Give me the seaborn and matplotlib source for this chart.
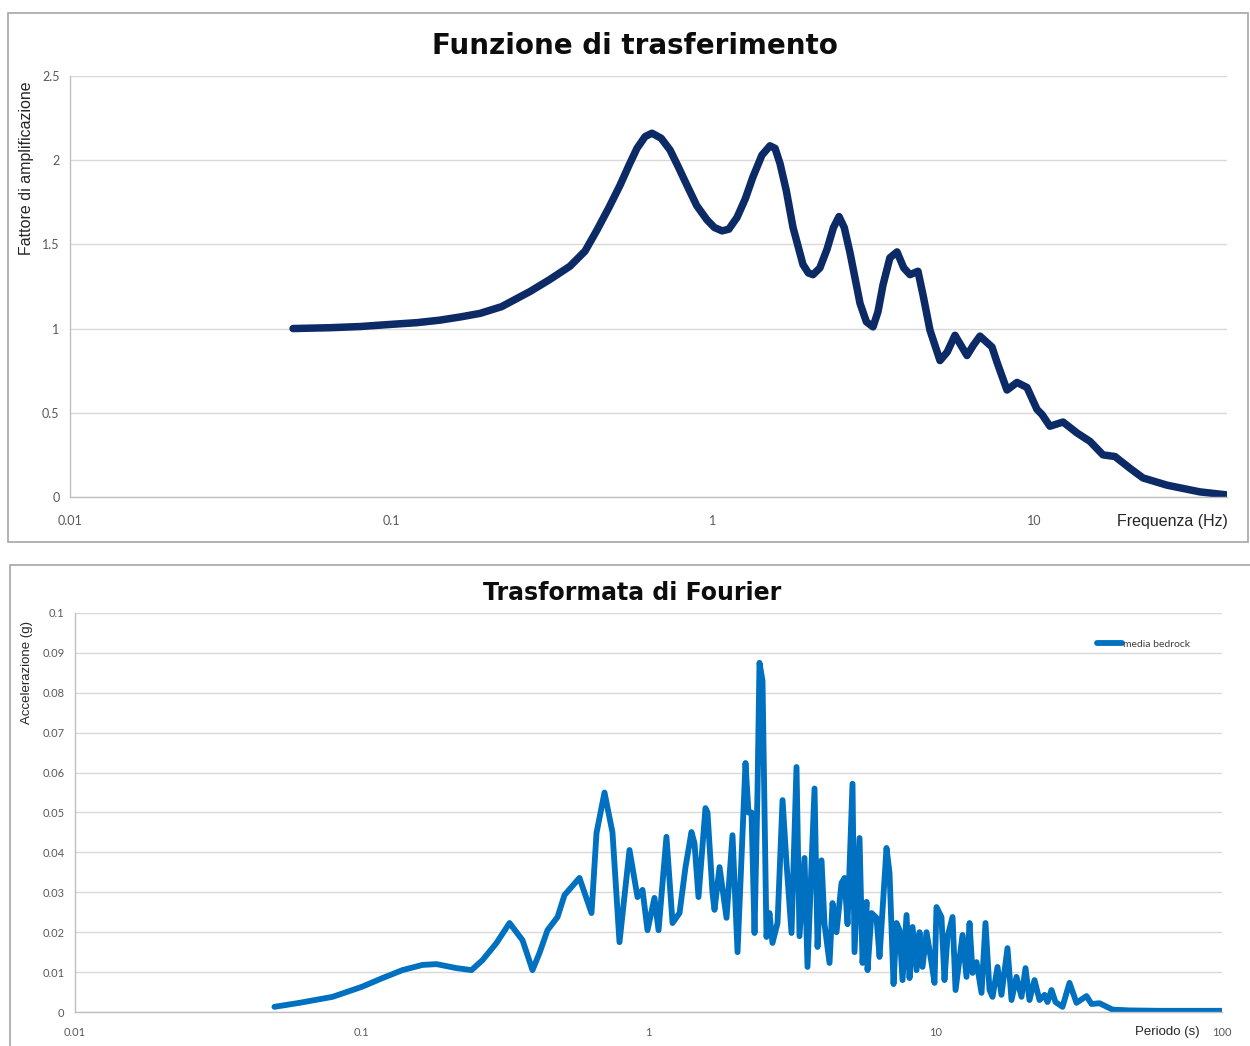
import matplotlib
matplotlib.use("Agg")
import matplotlib.pyplot as plt
from matplotlib.patches import Rectangle
import seaborn as sns
import pandas as pd

# transfer function (frequency in Hz, amplification factor)
freq_hz = [0.0494, 0.0644, 0.08, 0.1, 0.12, 0.1416, 0.165, 0.1885, 0.22, 0.2697,
           0.31, 0.359, 0.4, 0.4357, 0.475, 0.5136, 0.548, 0.5801, 0.615, 0.6459,
           0.69, 0.7353, 0.78, 0.8301, 0.89, 0.958, 1.01, 1.067, 1.12, 1.188,
           1.26, 1.331, 1.42, 1.504, 1.56, 1.616, 1.69, 1.774, 1.905, 1.98,
           2.047, 2.15, 2.262, 2.37, 2.466, 2.56, 2.668, 2.866, 3.0, 3.146,
           3.26, 3.38, 3.55, 3.736, 3.92, 4.1, 4.341, 4.5, 4.731, 5.083,
           5.35, 5.658, 6.167, 6.45, 6.768, 7.377, 7.645, 8.212, 8.823, 9.478,
           10.18, 10.55, 11.17, 12.27, 13.56, 14.88, 16.33, 17.8, 19.82, 21.75,
           25.83, 32.72, 39.7]
amplification = [1.0, 1.005, 1.012, 1.025, 1.035, 1.05, 1.07, 1.09, 1.13, 1.22,
                 1.29, 1.37, 1.46, 1.585, 1.72, 1.85, 1.97, 2.07, 2.14, 2.16,
                 2.13, 2.06, 1.96, 1.85, 1.73, 1.645, 1.6, 1.58, 1.59, 1.66,
                 1.77, 1.9, 2.03, 2.085, 2.07, 1.98, 1.82, 1.6, 1.38, 1.33,
                 1.32, 1.36, 1.47, 1.6, 1.665, 1.6, 1.45, 1.15, 1.04, 1.01,
                 1.1, 1.26, 1.42, 1.455, 1.36, 1.32, 1.34, 1.2, 0.99, 0.81,
                 0.86, 0.96, 0.84, 0.9, 0.955, 0.89, 0.8, 0.635, 0.68, 0.65,
                 0.52, 0.49, 0.42, 0.445, 0.38, 0.33, 0.25, 0.24, 0.17, 0.113,
                 0.07, 0.03, 0.012]

# Fourier spectrum (period in s, acceleration in g)
period_s = [0.0496, 0.0607, 0.0791, 0.1, 0.1181, 0.1387, 0.1628, 0.1823, 0.214, 0.2414,
            0.2637, 0.2951, 0.3276, 0.3636, 0.394, 0.4168, 0.4444, 0.4817, 0.5094, 0.5744,
            0.6328, 0.6588, 0.7024, 0.7488, 0.7922, 0.8585, 0.9155, 0.953, 0.992, 1.049,
            1.084, 1.155, 1.213, 1.283, 1.346, 1.412, 1.447, 1.494, 1.58, 1.606,
            1.672, 1.699, 1.769, 1.871, 1.963, 2.044, 2.179, 2.232, 2.287, 2.343,
            2.4, 2.438, 2.498, 2.579, 2.642, 2.706, 2.818, 2.934, 3.029, 3.153,
            3.282, 3.362, 3.5, 3.585, 3.793, 3.886, 4.012, 4.11, 4.279, 4.383,
            4.525, 4.711, 4.826, 4.944, 5.146, 5.229, 5.444, 5.577, 5.759, 5.806,
            5.995, 6.241, 6.393, 6.761, 6.928, 7.154, 7.328, 7.507, 7.69, 7.941,
            8.135, 8.333, 8.604, 8.814, 9.028, 9.323, 9.704, 9.94, 10.1, 10.51,
            10.77, 11.03, 11.49, 11.77, 12.45, 12.85, 13.17, 13.49, 13.93, 14.5,
            14.97, 15.46, 15.84, 16.49, 17.02, 17.86, 18.45, 19.2, 19.99, 20.64,
            21.31, 22.19, 23.1, 24.05, 24.63, 25.43, 26.26, 27.78, 29.39, 31.09,
            33.69, 35.07, 37.4, 41.52, 47.58, 60.55, 100.0]
acceleration_g = [0.0013, 0.0023, 0.0038, 0.0063, 0.0085, 0.0105, 0.0118, 0.012, 0.011, 0.0105,
                  0.013, 0.0173, 0.0223, 0.018, 0.0105, 0.0148, 0.0205, 0.0238, 0.0293, 0.0336,
                  0.0248, 0.0449, 0.055, 0.045, 0.0175, 0.0406, 0.0288, 0.0306, 0.0205, 0.0286,
                  0.0205, 0.0439, 0.0223, 0.0248, 0.0363, 0.0451, 0.0423, 0.0288, 0.0511, 0.05,
                  0.0298, 0.0256, 0.0363, 0.0236, 0.0443, 0.015, 0.0624, 0.05, 0.05, 0.0198,
                  0.0556, 0.0875, 0.083, 0.0188, 0.0248, 0.0173, 0.0223, 0.0531, 0.0373, 0.0198,
                  0.0614, 0.019, 0.0386, 0.0113, 0.056, 0.0163, 0.038, 0.022, 0.0123, 0.0273,
                  0.02, 0.0323, 0.0336, 0.022, 0.0572, 0.015, 0.0436, 0.0123, 0.0276, 0.0105,
                  0.0248, 0.0236, 0.0138, 0.0411, 0.0348, 0.007, 0.0223, 0.0205, 0.008, 0.0243,
                  0.0085, 0.0213, 0.0105, 0.02, 0.0113, 0.02, 0.0123, 0.0073, 0.0263, 0.0238,
                  0.008, 0.0188, 0.0238, 0.0055, 0.0193, 0.0088, 0.0223, 0.0098, 0.0125, 0.0048,
                  0.0223, 0.0055, 0.0038, 0.0113, 0.0043, 0.016, 0.003, 0.0088, 0.0038, 0.011,
                  0.003, 0.008, 0.003, 0.0043, 0.0025, 0.0055, 0.0025, 0.0013, 0.0073, 0.0023,
                  0.004, 0.002, 0.0022, 0.0006, 0.0004, 0.0003, 0.0003]

tf_df = pd.DataFrame({"freq": freq_hz, "amp": amplification})
ft_df = pd.DataFrame({"period": period_s, "acc": acceleration_g})

sns.set_theme(style="white")
plt.rcParams["font.family"] = ["Liberation Sans", "DejaVu Sans"]

fig = plt.figure(figsize=(12.5, 10.46), dpi=100)

# panel frames
fig.patches.append(Rectangle((0.0064, 0.4818), 0.992, 0.5057, transform=fig.transFigure,
                             fill=False, edgecolor="#a6a6a6", linewidth=1.2))
fig.patches.append(Rectangle((0.008, -0.01), 0.995, 0.47, transform=fig.transFigure,
                             fill=False, edgecolor="#a6a6a6", linewidth=1.2))

ax1 = fig.add_axes([0.056, 0.5249, 0.9256, 0.4025])
ax2 = fig.add_axes([0.06, 0.0325, 0.9176, 0.3815])

grid_col = "#d9d9d9"
tick_col = "#595959"

# top: transfer function
sns.lineplot(data=tf_df, x="freq", y="amp", ax=ax1, color="#0c2a66", linewidth=5.4,
             solid_capstyle="round", solid_joinstyle="round")
ax1.set_xscale("log")
ax1.set_xlim(0.01, 39.7)
ax1.set_ylim(0, 2.5)
ax1.set_xticks([0.01, 0.1, 1, 10])
ax1.set_xticklabels(["0.01", "0.1", "1", "10"])
ax1.set_yticks([0, 0.5, 1, 1.5, 2, 2.5])
ax1.set_yticklabels(["0", "0.5", "1", "1.5", "2", "2.5"])
ax1.minorticks_off()
ax1.tick_params(axis="both", labelsize=9, colors=tick_col, length=4, width=0.8, color="#bfbfbf")
ax1.tick_params(axis="x", pad=9)
ax1.set_xlabel("")
ax1.set_ylabel("")

# bottom: Fourier transform
sns.lineplot(data=ft_df, x="period", y="acc", ax=ax2, color="#0070c0", linewidth=4.2,
             label="media bedrock", solid_capstyle="round", solid_joinstyle="round")
ax2.set_xscale("log")
ax2.set_xlim(0.01, 100)
ax2.set_ylim(0, 0.1)
ax2.set_xticks([0.01, 0.1, 1, 10, 100])
ax2.set_xticklabels(["0.01", "0.1", "1", "10", "100"])
ax2.set_yticks([0, 0.01, 0.02, 0.03, 0.04, 0.05, 0.06, 0.07, 0.08, 0.09, 0.1])
ax2.set_yticklabels(["0", "0.01", "0.02", "0.03", "0.04", "0.05", "0.06", "0.07", "0.08", "0.09", "0.1"])
ax2.minorticks_off()
ax2.tick_params(axis="both", labelsize=8, colors=tick_col, length=4, width=0.8, color="#bfbfbf")
ax2.tick_params(axis="x", pad=7)
ax2.set_xlabel("")
ax2.set_ylabel("")
leg = ax2.legend(loc="upper right", bbox_to_anchor=(0.972, 0.933), frameon=False,
                 fontsize=7.5, handlelength=2.4, handletextpad=0.1, borderaxespad=0, borderpad=0)
for t in leg.get_texts():
    t.set_color("#404040")
    t.set_family(["Lato", "DejaVu Sans"])

for ax in (ax1, ax2):
    ax.grid(axis="y", color=grid_col, linewidth=1)
    ax.set_axisbelow(True)
    for s in ("top", "right"):
        ax.spines[s].set_visible(False)
    for s in ("left", "bottom"):
        ax.spines[s].set_color("#bfbfbf")
        ax.spines[s].set_linewidth(1)
    for lab in ax.get_xticklabels() + ax.get_yticklabels():
        lab.set_family(["Lato", "DejaVu Sans"])

# titles and axis labels
fig.text(0.508, 0.956, "Funzione di trasferimento", ha="center", va="center",
         fontsize=20, fontweight="bold", family=["DejaVu Sans"], color="#0d0d0d")
fig.text(0.5056, 0.433, "Trasformata di Fourier", ha="center", va="center",
         fontsize=17, fontweight="bold", family=["DejaVu Sans"], color="#0d0d0d")
fig.text(0.0216, 0.839, "Fattore di amplificazione", rotation=90, ha="center", va="center",
         fontsize=11.5, color="#262626")
fig.text(0.0216, 0.357, "Accelerazione (g)", rotation=90, ha="center", va="center",
         fontsize=9.5, color="#262626")
fig.text(0.9376, 0.501, "Frequenza (Hz)", ha="center", va="center", fontsize=11.5, color="#262626")
fig.text(0.9336, 0.0134, "Periodo (s)", ha="center", va="center", fontsize=9.5, color="#262626")

fig.savefig("out.png", dpi=100)
